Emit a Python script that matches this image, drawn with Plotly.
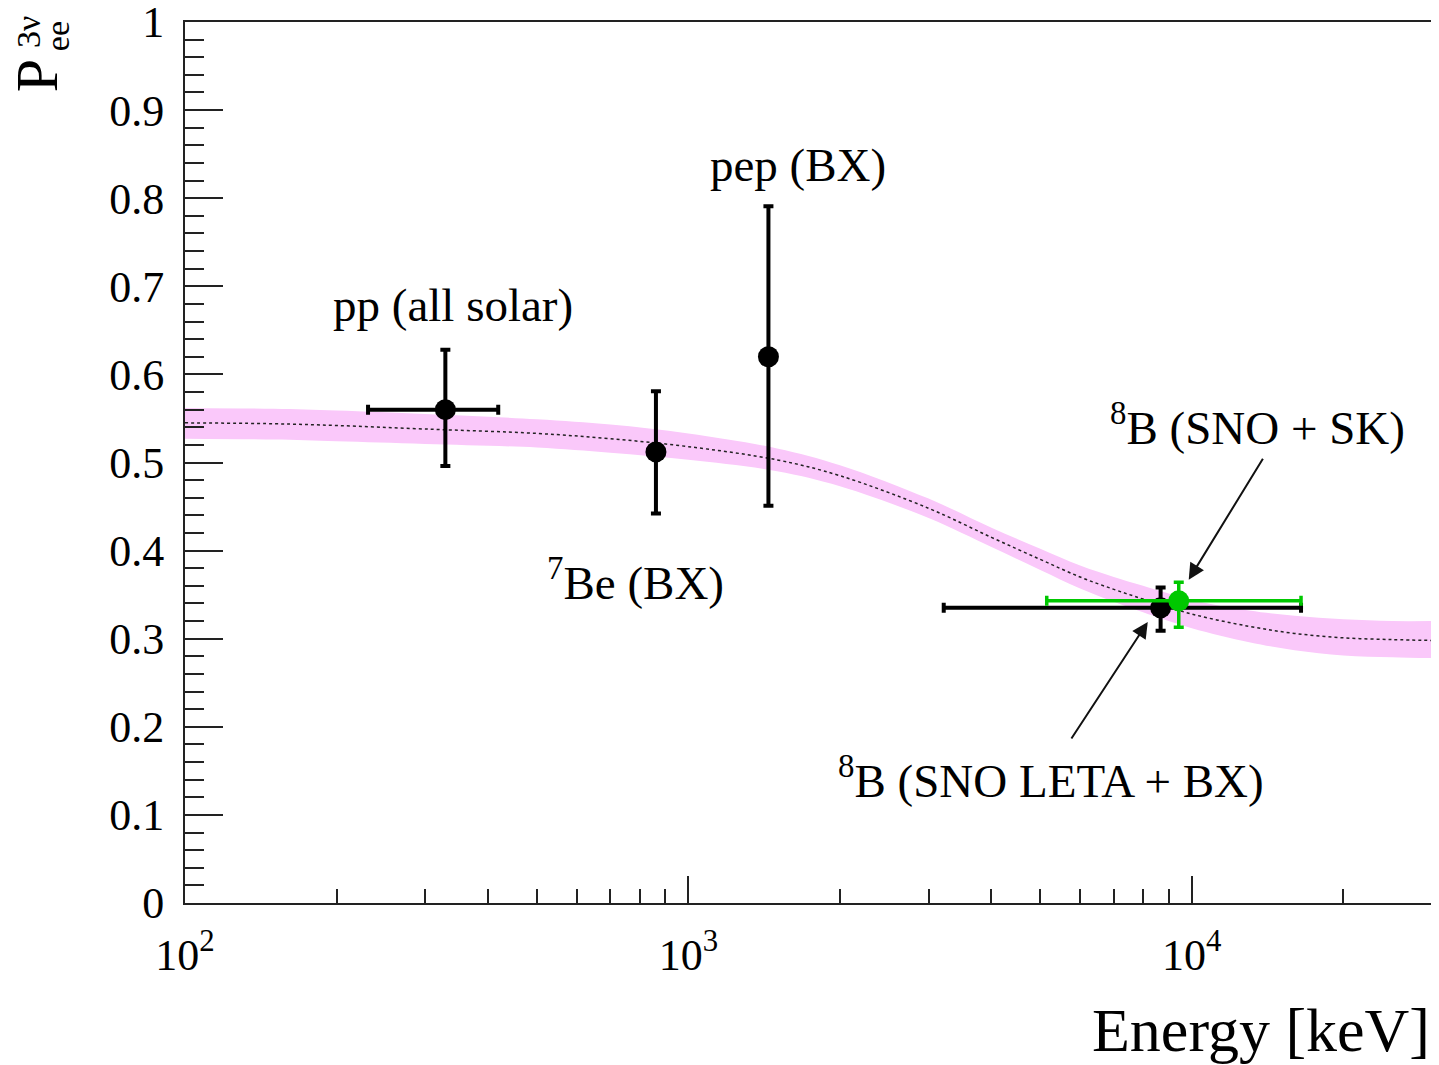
import math
import plotly.graph_objects as go

# ---------------- data ----------------
# prediction curve (MSW-LMA)
curve_E = [100, 150, 200, 300, 500, 700, 1000, 1500, 2000, 3000, 4000, 5000,
           6000, 7000, 8000, 10000, 13000, 16000, 20000, 25000, 30000]
curve_P = [0.545, 0.544, 0.542, 0.538, 0.533, 0.527, 0.518, 0.503, 0.485, 0.448,
           0.415, 0.390, 0.370, 0.356, 0.345, 0.328, 0.314, 0.306, 0.301, 0.299, 0.298]
band_hi = [0.562, 0.561, 0.559, 0.555, 0.549, 0.543, 0.533, 0.516, 0.497, 0.459,
           0.426, 0.402, 0.383, 0.370, 0.360, 0.344, 0.332, 0.326, 0.322, 0.320, 0.320]
band_lo = [0.527, 0.526, 0.524, 0.521, 0.517, 0.511, 0.503, 0.490, 0.473, 0.437,
           0.404, 0.378, 0.357, 0.342, 0.330, 0.312, 0.296, 0.287, 0.281, 0.279, 0.278]

# black measurements: pp, 7Be, pep, 8B (SNO LETA + BX)
meas_names = ["pp (all solar)", "7Be (BX)", "pep (BX)", "8B (SNO LETA + BX)"]
meas_E = [329, 862, 1442, 8670]
meas_E_lo = [231, 862, 1442, 3215]
meas_E_hi = [419, 862, 1442, 16480]
meas_P = [0.560, 0.512, 0.620, 0.335]
meas_P_lo = [0.496, 0.442, 0.451, 0.309]
meas_P_hi = [0.628, 0.581, 0.791, 0.358]

# green measurement: 8B (SNO + SK)
sk_E = [9420]
sk_E_lo = [5150]
sk_E_hi = [16480]
sk_P = [0.343]
sk_P_lo = [0.313]
sk_P_hi = [0.364]

x_tickvals = [100, 1000, 10000]
x_ticktext = ["10<sup>2</sup>", "10<sup>3</sup>", "10<sup>4</sup>"]
x_minor = [200, 300, 400, 500, 600, 700, 800, 900,
           2000, 3000, 4000, 5000, 6000, 7000, 8000, 9000, 20000, 30000]
y_tickvals = [0, 0.1, 0.2, 0.3, 0.4, 0.5, 0.6, 0.7, 0.8, 0.9, 1]
y_ticktext = ["0", "0.1", "0.2", "0.3", "0.4", "0.5", "0.6", "0.7", "0.8", "0.9", "1"]

FONT = "Liberation Serif, Times New Roman, serif"
BAND = "#fac8fa"
GREEN = "#00c800"

fig = go.Figure()

# band
fig.add_trace(go.Scatter(x=curve_E, y=band_hi, mode="lines", line=dict(width=0, color=BAND),
                         showlegend=False, hoverinfo="skip", line_shape="spline"))
fig.add_trace(go.Scatter(x=curve_E, y=band_lo, mode="lines", line=dict(width=0, color=BAND),
                         fill="tonexty", fillcolor=BAND, showlegend=False, hoverinfo="skip",
                         line_shape="spline"))
# central curve
fig.add_trace(go.Scatter(x=curve_E, y=curve_P, mode="lines", line=dict(width=1.5, color="#222", dash="dot"),
                         showlegend=False, line_shape="spline"))

# black measurements
fig.add_trace(go.Scatter(
    x=meas_E, y=meas_P, mode="markers",
    marker=dict(size=21, color="black"),
    error_x=dict(type="data", symmetric=False,
                 array=[h - e for h, e in zip(meas_E_hi, meas_E)],
                 arrayminus=[e - l for e, l in zip(meas_E, meas_E_lo)],
                 color="black", thickness=4, width=5),
    error_y=dict(type="data", symmetric=False,
                 array=[h - p for h, p in zip(meas_P_hi, meas_P)],
                 arrayminus=[p - l for p, l in zip(meas_P, meas_P_lo)],
                 color="black", thickness=4, width=5),
    showlegend=False, text=meas_names))

# green measurement
fig.add_trace(go.Scatter(
    x=sk_E, y=sk_P, mode="markers",
    marker=dict(size=21, color=GREEN),
    error_x=dict(type="data", symmetric=False,
                 array=[h - e for h, e in zip(sk_E_hi, sk_E)],
                 arrayminus=[e - l for e, l in zip(sk_E, sk_E_lo)],
                 color=GREEN, thickness=3.5, width=5),
    error_y=dict(type="data", symmetric=False,
                 array=[h - p for h, p in zip(sk_P_hi, sk_P)],
                 arrayminus=[p - l for p, l in zip(sk_P, sk_P_lo)],
                 color=GREEN, thickness=3.5, width=5),
    showlegend=False))

L = math.log10
annos = [
    dict(x=L(340), y=0.679, text="pp (all solar)"),
    dict(x=L(1650), y=0.838, text="pep (BX)"),
    dict(x=L(785), y=0.367, text="<sup>7</sup>Be (BX)"),
    dict(x=L(13500), y=0.543, text="<sup>8</sup>B (SNO + SK)"),
    dict(x=L(5250), y=0.143, text="<sup>8</sup>B (SNO LETA + BX)"),
]
for a in annos:
    fig.add_annotation(x=a["x"], y=a["y"], xref="x", yref="y", text=a["text"], showarrow=False,
                       font=dict(family=FONT, size=47, color="black"), xanchor="center", yanchor="middle")

# arrows
fig.add_annotation(x=L(9860), y=0.367, ax=L(13900), ay=0.506, xref="x", yref="y", axref="x", ayref="y",
                   text="", showarrow=True, arrowhead=2, arrowsize=1.6, arrowwidth=2, arrowcolor="#111")
fig.add_annotation(x=L(8175), y=0.319, ax=L(5740), ay=0.185, xref="x", yref="y", axref="x", ayref="y",
                   text="", showarrow=True, arrowhead=2, arrowsize=1.6, arrowwidth=2, arrowcolor="#111")

# axis titles
fig.add_annotation(x=1.0, y=-0.144, xref="paper", yref="paper", text="Energy [keV]", showarrow=False,
                   xanchor="right", yanchor="middle", font=dict(family=FONT, size=62, color="black"))
fig.add_annotation(x=-0.119, y=0.939, xref="paper", yref="paper", text="P", textangle=-90, showarrow=False,
                   xanchor="center", yanchor="middle", font=dict(family=FONT, size=60, color="black"))
fig.add_annotation(x=-0.1259, y=0.9886, xref="paper", yref="paper", text="3ν", textangle=-90,
                   showarrow=False, xanchor="center", yanchor="middle",
                   font=dict(family=FONT, size=34, color="black"))
fig.add_annotation(x=-0.1026, y=0.984, xref="paper", yref="paper", text="ee", textangle=-90,
                   showarrow=False, xanchor="center", yanchor="middle",
                   font=dict(family=FONT, size=34, color="black"))

axis_common = dict(showline=True, mirror=True, linecolor="#222", linewidth=2, showgrid=False, zeroline=False,
                   ticks="inside", tickcolor="#222", tickwidth=2, automargin=False,
                   ticklabeloverflow="allow",
                   tickfont=dict(family=FONT, size=44, color="black"))

fig.update_xaxes(type="log", range=[2, L(30000)], tickmode="array", tickvals=x_tickvals, ticktext=x_ticktext,
                 ticklen=27, ticklabelstandoff=12,
                 minor=dict(ticks="inside", tickmode="array", tickvals=x_minor, ticklen=14, tickwidth=2,
                            tickcolor="#222", showgrid=False),
                 **axis_common)
fig.update_yaxes(range=[0, 1], tickmode="array", tickvals=y_tickvals, ticktext=y_ticktext,
                 ticklen=38, ticklabelstandoff=10,
                 minor=dict(ticks="inside", dtick=0.02, ticklen=19, tickwidth=2, tickcolor="#222", showgrid=False),
                 **axis_common)

# page body adds an 8px offset, so margins compensate
fig.update_layout(width=1439, height=1065, margin=dict(l=177, r=15, t=14, b=170),
                  plot_bgcolor="white", paper_bgcolor="white", showlegend=False,
                  font=dict(family=FONT, color="black"))

fig.write_html("out.html")
